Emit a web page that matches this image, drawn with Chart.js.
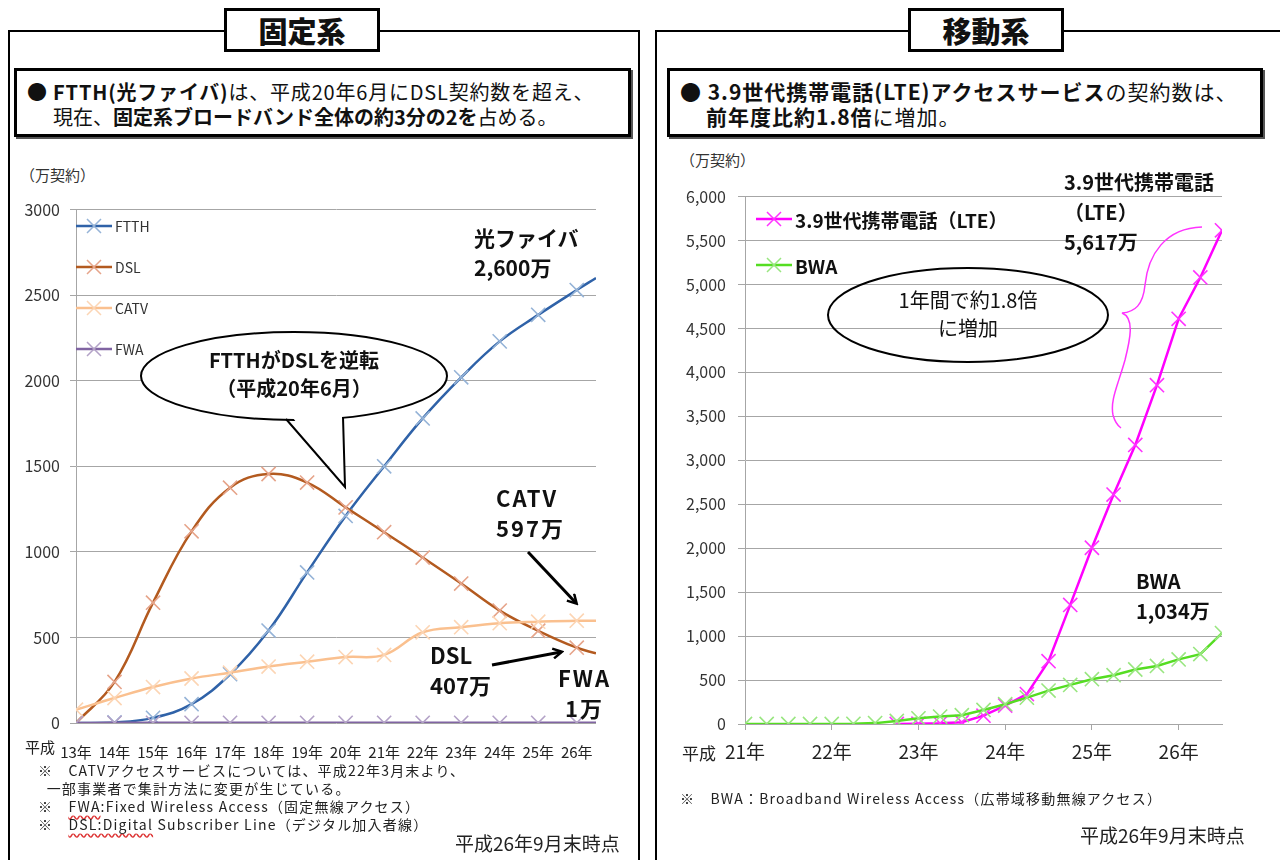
<!DOCTYPE html>
<html>
<head>
<meta charset="utf-8">
<script src="https://cdn.jsdelivr.net/npm/chart.js@4.4.1/dist/chart.umd.min.js"></script>
<style>
  body { margin: 0; width: 1280px; height: 860px; overflow: hidden; background: #fff;
         font-family: "Noto Sans CJK JP", "Noto Sans", sans-serif; color: #111; }
  .abs { position: absolute; }
  .panel { position: absolute; border: 2px solid #000; background: #fff; }
  .title { position: absolute; border: 3px solid #000; background: #fff; text-align: center;
           font-weight: 900; font-size: 29px; line-height: 38px; }
  .desc { position: absolute; border: 3px solid #000; box-shadow: 2px 2px 0 #555; background: #fff;
          line-height: 25px; padding: 8px 0 0 0; white-space: nowrap; }
  .desc b { font-weight: 700; }
  .unit { position: absolute; font-size: 15px; color: #333; }
  .note { position: absolute; font-size: 14px; line-height: 18px; color: #222; white-space: nowrap; letter-spacing: 1.2px; }
  .stamp { position: absolute; font-size: 19px; color: #222; white-space: nowrap; }
  .ann { position: absolute; font-weight: 700; font-size: 22px; line-height: 30px; white-space: nowrap; }
  .ann2 { position: absolute; font-size: 20px; line-height: 30px; white-space: nowrap; }
  .legend { position: absolute; font-size: 14px; color: #333; }
  .legend div { height: 41px; display: flex; align-items: center; }
  .legend svg { margin-right: 3px; }
  .wavy { text-decoration: underline wavy #d33; text-underline-offset: 3px; }
  canvas { position: absolute; }
</style>
</head>
<body>

<div class="panel" style="left:8px; top:30px; width:628px; height:860px;"></div>
<div class="panel" style="left:655px; top:30px; width:660px; height:860px;"></div>
<div class="title" style="left:224px; top:8px; width:150px; height:38px;">固定系</div>
<div class="title" style="left:908px; top:8px; width:150px; height:38px;">移動系</div>

<div class="desc" style="left:14px; top:68px; width:611px; height:55px; font-size:20px;">
  <div style="padding-left:10px; letter-spacing:0.8px;">● <b>FTTH(光ファイバ)</b>は、平成20年6月にDSL契約数を超え、</div>
  <div style="padding-left:36px;">現在、<b>固定系ブロードバンド全体の約3分の2を</b>占める。</div>
</div>
<div class="desc" style="left:667px; top:68px; width:590px; height:55px; font-size:21px; letter-spacing:1px;">
  <div style="padding-left:10px;">● <b>3.9世代携帯電話(LTE)アクセスサービス</b>の契約数は、</div>
  <div style="padding-left:36px;"><b>前年度比約1.8倍</b>に増加。</div>
</div>

<div class="unit" style="left:20px; top:164px;">（万契約）</div>
<div class="unit" style="left:680px; top:149px;">（万契約）</div>

<canvas id="fixed" width="620" height="580" style="left:0px; top:190px;"></canvas>
<canvas id="mobile" width="610" height="595" style="left:650px; top:175px;"></canvas>

<div class="abs" style="left:25px; top:736px; font-size:15px; color:#222;">平成</div>
<div class="abs" style="left:682px; top:740px; font-size:17px; color:#222;">平成</div>

<div class="legend" id="fixedLegend" style="left:76px; top:205px;"></div>
<div class="legend" id="mobileLegend" style="left:756px; top:196px; font-size:19px; font-weight:700; color:#111;"></div>

<svg class="abs" width="1280" height="860" style="left:0; top:0; pointer-events:none;">
  <defs>
    <marker id="arr" markerWidth="12" markerHeight="12" refX="9" refY="6" orient="auto" markerUnits="userSpaceOnUse">
      <path d="M1,1 L10,6 L1,11" fill="none" stroke="#000" stroke-width="2.5"/>
    </marker>
  </defs>
  <!-- callout on fixed chart -->
  <ellipse cx="294" cy="376" rx="153" ry="44" fill="#fff" stroke="#000" stroke-width="2"/>
  <polygon points="287,410 345,487 342,408" fill="#fff"/>
  <polyline points="286,419 345,487 343,417" fill="none" stroke="#000" stroke-width="2"/>
  <line x1="528" y1="552" x2="576" y2="603" stroke="#000" stroke-width="3" marker-end="url(#arr)"/>
  <line x1="492" y1="665" x2="561" y2="652" stroke="#000" stroke-width="3" marker-end="url(#arr)"/>
  <!-- mobile annotations -->
  <ellipse cx="968" cy="315" rx="140" ry="47" fill="none" stroke="#000" stroke-width="2"/>
  <path d="M1202,227 C1165,228 1148,255 1145,285 C1143,305 1135,312 1122,313 C1135,318 1130,340 1125,360 C1118,385 1110,400 1113,415 C1115,422 1118,426 1121,428"
        fill="none" stroke="#ff33ff" stroke-width="1.5"/>
</svg>

<div class="ann" style="left:474px; top:222px; font-size:21px;">光ファイバ<br>2,600万</div>
<div class="ann" style="left:294px; top:346px; width:0; font-size:20px; line-height:28px;">
  <div style="position:absolute; left:-130px; width:260px; text-align:center;">FTTHがDSLを逆転<br>（平成20年6月）</div>
</div>
<div class="ann" style="left:496px; top:482px; letter-spacing:2px;">CATV<br>597万</div>
<div class="ann" style="left:430px; top:639px;">DSL<br>407万</div>
<div class="ann" style="left:558px; top:662px; letter-spacing:2px;">FWA<br>&nbsp;1万</div>

<div class="ann2" style="left:1064px; top:167px; font-weight:700;">3.9世代携帯電話<br>（LTE）<br>5,617万</div>
<div class="ann2" style="left:968px; top:286px; width:0;">
  <div style="position:absolute; left:-120px; width:240px; text-align:center; line-height:28px;">1年間で約1.8倍<br>に増加</div>
</div>
<div class="ann2" style="left:1136px; top:566px; font-weight:700;">BWA<br>1,034万</div>

<div class="note" style="left:38px; top:761px;">※　CATVアクセスサービスについては、平成22年3月末より、<br>&nbsp;&nbsp;一部事業者で集計方法に変更が生じている。<br>※　<span class="wavy">FWA</span>:Fixed Wireless Access（固定無線アクセス）<br>※　<span class="wavy">DSL:Digital</span> Subscriber Line（デジタル加入者線）</div>
<div class="stamp" style="left:455px; top:829px;">平成26年9月末時点</div>
<div class="note" style="left:680px; top:789px;">※　BWA：Broadband Wireless Access（広帯域移動無線アクセス）</div>
<div class="stamp" style="left:1080px; top:821px;">平成26年9月末時点</div>

<script>
// 固定系 (万契約), 年度末 + 平成26年9月末 (26.5)
const fixedTime = [13, 14, 15, 16, 17, 18, 19, 20, 21, 22, 23, 24, 25, 26, 26.5];
const ftth = [0, 3, 30, 110, 285, 540, 880, 1210, 1500, 1780, 2020, 2230, 2385, 2530, 2600];
const dsl  = [0, 240, 703, 1120, 1375, 1455, 1405, 1260, 1115, 967, 815, 657, 539, 440, 407];
const catv = [78, 146, 210, 260, 294, 330, 358, 385, 398, 530, 560, 583, 592, 598, 597];
const fwa  = [0, 1, 1, 1, 1, 1, 1, 1, 1, 1, 1, 1, 1, 1, 1];
const fixedNames = ["FTTH", "DSL", "CATV", "FWA"];
const fixedYTicks = [0, 500, 1000, 1500, 2000, 2500, 3000];

// 移動系 (万契約), 四半期末
const mobileTime = [21, 21.25, 21.5, 21.75, 22, 22.25, 22.5, 22.75, 23, 23.25, 23.5, 23.75,
                    24, 24.25, 24.5, 24.75, 25, 25.25, 25.5, 25.75, 26, 26.25, 26.5];
const lte = [null, null, null, null, null, null, null, 0, 3, 8, 20, 95,
             210, 340, 715, 1355, 2005, 2610, 3175, 3855, 4610, 5080, 5617];
const bwa = [0, 0, 0, 0, 0, 2, 10, 35, 65, 85, 100, 160,
             225, 300, 380, 445, 510, 555, 620, 660, 735, 795, 1034];
const mobileNames = ["3.9世代携帯電話（LTE）", "BWA"];

const fixedColors = [
  { line: "#2f62a8", mark: "#95b3d7" },
  { line: "#b35a1f", mark: "#e6a48a" },
  { line: "#fac08f", mark: "#fcd5b4" },
  { line: "#8064a2", mark: "#b3a2c7" }
];
const mobileColors = [
  { line: "#ff00ff", mark: "#ff33ff" },
  { line: "#55dd22", mark: "#99e680" }
];

const font = "'Noto Sans CJK JP', 'Noto Sans', sans-serif";

function pts(xs, ys) {
  return xs.map((x, i) => ({ x: x, y: ys[i] }));
}

function legendSample(c) {
  return '<svg width="36" height="16"><line x1="0" y1="8" x2="36" y2="8" stroke="' + c.line +
    '" stroke-width="2.5"/><path d="M11,1 L25,15 M25,1 L11,15" stroke="' + c.mark + '" stroke-width="1.5"/></svg>';
}

/* 固定系 */

const fixedSeries = [ftth, dsl, catv, fwa];
const fixedRadius = fixedTime.map(t => (Number.isInteger(t) ? 10 : 0));

new Chart(document.getElementById("fixed"), {
  type: "line",
  data: {
    datasets: fixedSeries.map((s, i) => ({
      label: fixedNames[i],
      data: pts(fixedTime, s),
      borderColor: fixedColors[i].line,
      borderWidth: 2.5,
      tension: 0.4,
      pointStyle: "crossRot",
      pointRadius: fixedRadius,
      pointBorderColor: fixedColors[i].mark,
      pointBorderWidth: 1.6,
      order: 4 - i
    }))
  },
  options: {
    responsive: false,
    animation: false,
    layout: { padding: { top: 17, right: 24, left: 0, bottom: 0 } },
    plugins: { legend: { display: false }, tooltip: { enabled: false } },
    scales: {
      x: {
        type: "linear",
        min: 13, max: 26.5,
        afterFit: s => { s.height = 47; },
        border: { display: false },
        grid: { display: false },
        ticks: {
          stepSize: 1, includeBounds: false, autoSkip: false, maxRotation: 0, padding: 12,
          color: "#222", font: { family: font, size: 15 },
          callback: v => (Number.isInteger(v) ? v + "年" : "")
        }
      },
      y: {
        min: 0, max: 3000,
        afterFit: s => { s.width = 76; },
        afterBuildTicks: s => { s.ticks = fixedYTicks.map(v => ({ value: v })); },
        border: { color: "#a6a6a6", width: 1 },
        grid: { color: "#a6a6a6", lineWidth: 1, tickLength: 6 },
        ticks: { padding: 10, color: "#333", font: { family: font, size: 16 }, callback: v => v }
      }
    }
  }
});

document.getElementById("fixedLegend").innerHTML = fixedNames
  .map((n, i) => "<div>" + legendSample(fixedColors[i]) + n + "</div>").join("");

/* 移動系 */

const mobileSeries = [lte, bwa];

new Chart(document.getElementById("mobile"), {
  type: "line",
  data: {
    datasets: mobileSeries.map((s, i) => ({
      label: mobileNames[i],
      data: pts(mobileTime, s),
      borderColor: mobileColors[i].line,
      borderWidth: 2.5,
      tension: 0,
      pointStyle: "crossRot",
      pointRadius: 10,
      pointBorderColor: mobileColors[i].mark,
      pointBorderWidth: 1.6,
      order: i === 0 ? 2 : 1
    }))
  },
  options: {
    responsive: false,
    animation: false,
    layout: { padding: { top: 15, right: 38, left: 0, bottom: 0 } },
    plugins: { legend: { display: false }, tooltip: { enabled: false } },
    scales: {
      x: {
        type: "linear",
        min: 21, max: 26.5,
        afterFit: s => { s.height = 46; },
        border: { color: "#a6a6a6", width: 1 },
        grid: { drawOnChartArea: false, color: "#a6a6a6", tickLength: 6 },
        ticks: {
          stepSize: 1, includeBounds: false, autoSkip: false, maxRotation: 0, padding: 10,
          color: "#222", font: { family: font, size: 19 },
          callback: v => (Number.isInteger(v) ? v + "年" : "")
        }
      },
      y: {
        min: 0, max: 6000,
        afterFit: s => { s.width = 95; },
        border: { color: "#a6a6a6", width: 1 },
        grid: { color: "#a6a6a6", lineWidth: 1, tickLength: 7 },
        ticks: {
          stepSize: 500, padding: 12, color: "#333", font: { family: font, size: 16 },
          callback: v => v.toLocaleString("en-US")
        }
      }
    }
  }
});

document.getElementById("mobileLegend").innerHTML = mobileNames
  .map((n, i) => '<div style="height:46px">' + legendSample(mobileColors[i]) + n + "</div>").join("");
</script>
</body>
</html>
